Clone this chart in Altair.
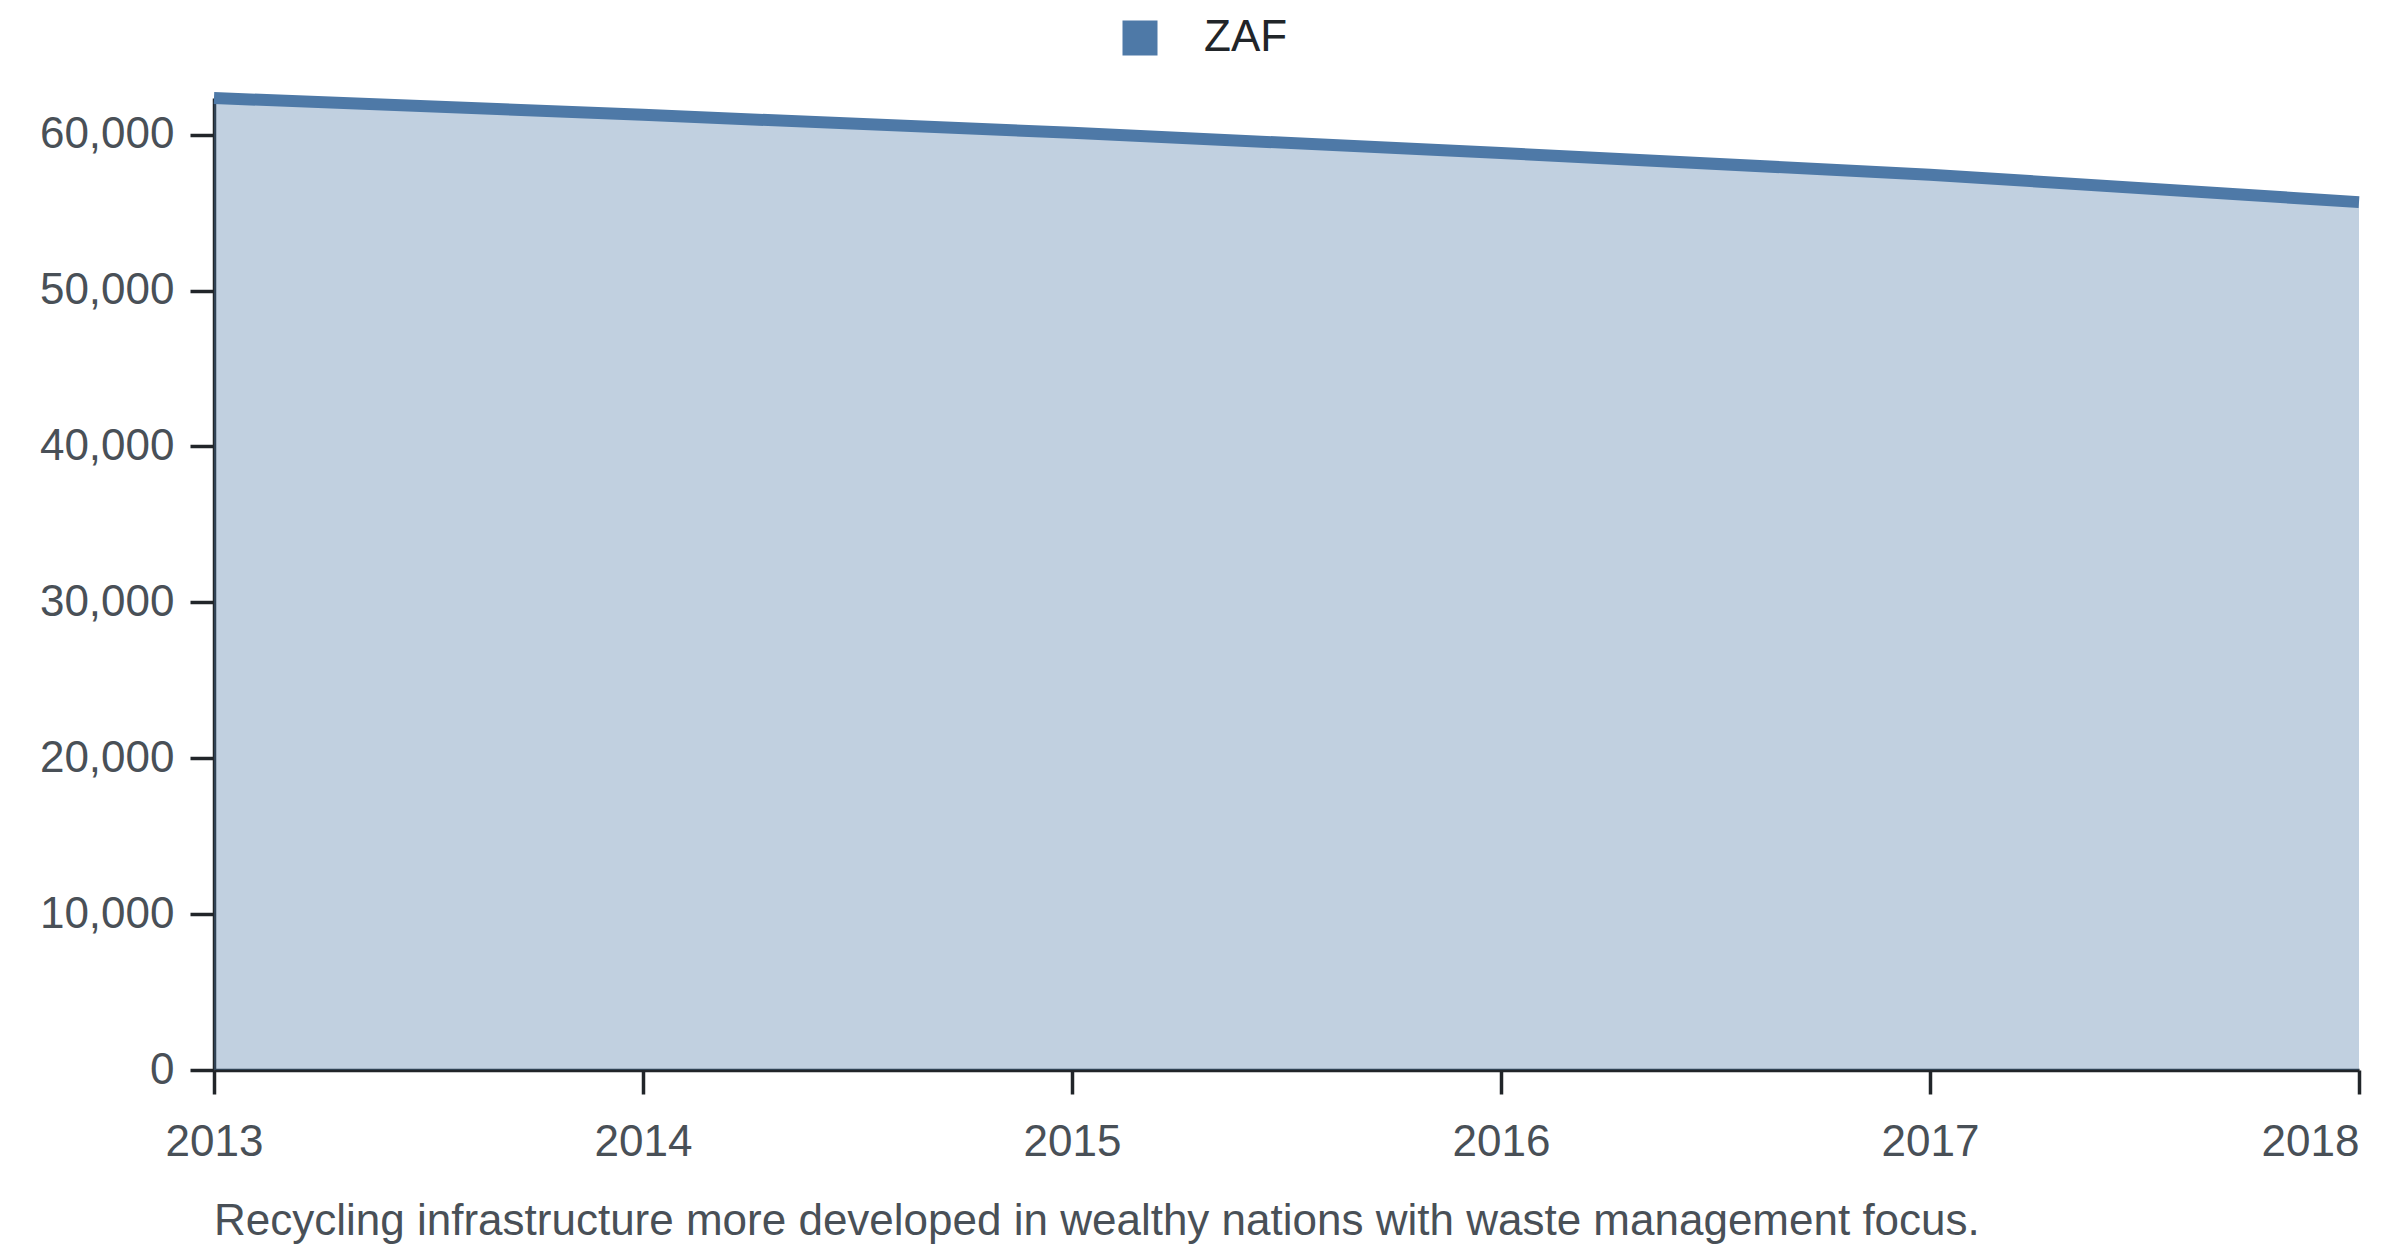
import altair as alt
import pandas as pd

YEARS = [2013, 2014, 2015, 2016, 2017, 2018]
ZAF = [62350, 61270, 60120, 58820, 57430, 55670]
SERIES = ["ZAF"]
Y_TICKS = [0, 10000, 20000, 30000, 40000, 50000, 60000]
CAPTION = "Recycling infrastructure more developed in wealthy nations with waste management focus."

BLUE = "#4e79a7"
INK = "#212529"
GREY = "#495057"
FONT = "Liberation Sans"

df = pd.DataFrame({"year": YEARS, "value": ZAF, "country": SERIES * len(YEARS)})

# last year label sits flush against the right end of the axis
last_label_align = alt.ExprRef(f"datum.value == {max(YEARS)} ? 'right' : 'center'")

x = alt.X(
    "year:Q",
    scale=alt.Scale(domain=[min(YEARS), max(YEARS)], nice=False, zero=False),
    axis=alt.Axis(values=YEARS, format="d", title=None, grid=False,
                  labelPadding=26, labelFlush=False, labelAlign=last_label_align),
)
y = alt.Y(
    "value:Q",
    scale=alt.Scale(nice=False, zero=True),
    axis=alt.Axis(values=Y_TICKS, format=",d", title=None, grid=False,
                  labelPadding=16),
)

base = alt.Chart(df)

area = base.mark_area(fillOpacity=0.35, color=BLUE).encode(
    x=x, y=y,
    color=alt.Color(
        "country:N",
        scale=alt.Scale(domain=SERIES, range=[BLUE]),
        legend=alt.Legend(
            title=None, orient="none", direction="horizontal",
            legendX=904, legendY=-82, padding=0,
            symbolType="square", symbolSize=1225, symbolOpacity=1,
            symbolStrokeWidth=0, labelOffset=42,
            labelFontSize=44, labelColor=INK, labelFont=FONT,
        ),
    ),
)

line = base.mark_line(color=BLUE, strokeWidth=12).encode(x=x, y=y)

chart = (
    alt.layer(area, line)
    .properties(
        width=2145, height=972,
        autosize=alt.AutoSizeParams(type="none"),
        padding={"left": 206, "top": 90, "right": 30, "bottom": 176},
        title=alt.TitleParams(
            CAPTION, orient="bottom", anchor="start", frame="group",
            fontSize=44, font=FONT, color=GREY, fontWeight="normal", offset=36,
        ),
    )
    .configure(font=FONT)
    .configure_axis(
        labelFontSize=44, labelColor=GREY, labelFont=FONT,
        domainColor=INK, domainWidth=3.5, tickColor=INK, tickWidth=3.5, tickSize=24,
    )
    .configure_view(stroke=None)
)

chart.save("out.html", embed_options={"renderer": "svg", "actions": False})
